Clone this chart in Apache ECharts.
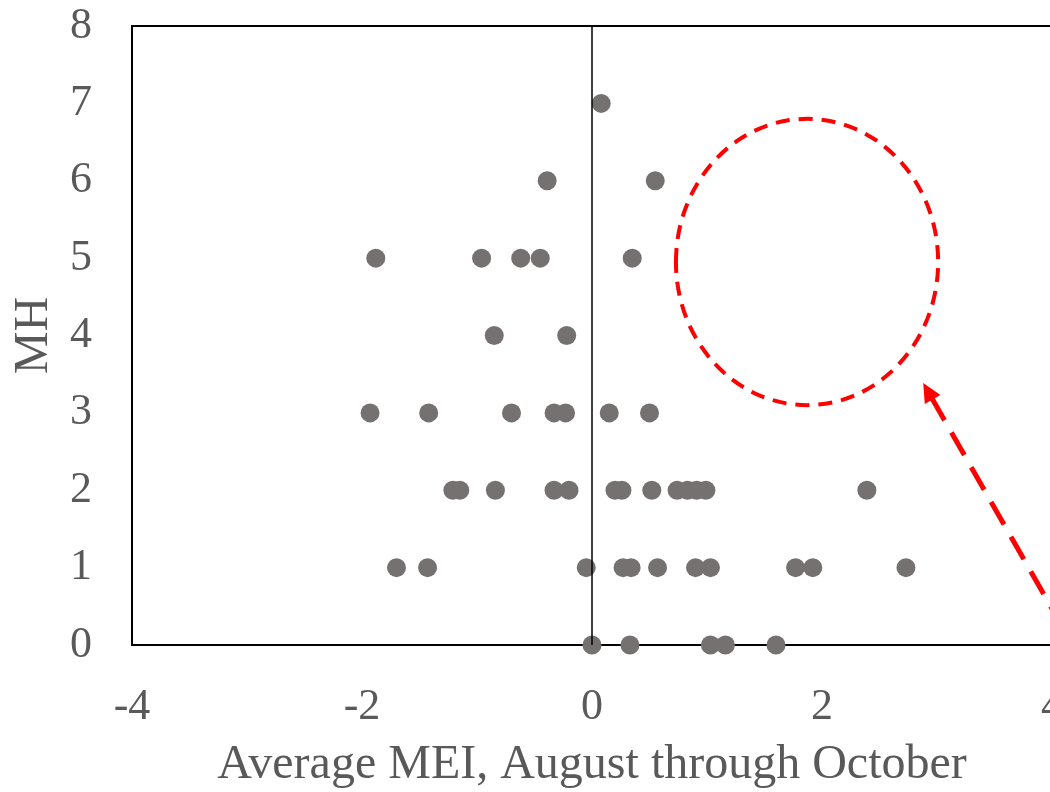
<!DOCTYPE html>
<html>
<head>
<meta charset="utf-8">
<script src="https://cdn.jsdelivr.net/npm/echarts@6/dist/echarts.min.js"></script>
<style>html,body{margin:0;padding:0;background:#fff;}#c{width:1050px;height:792px;}</style>
</head>
<body>
<div id="c"></div>
<script>
// MH value for each point
const mhValues = [
  7,
  6, 6,
  5, 5, 5, 5, 5,
  4, 4,
  3, 3, 3, 3, 3, 3, 3,
  2, 2, 2, 2, 2, 2, 2, 2, 2, 2, 2, 2, 2,
  1, 1, 1, 1, 1, 1, 1, 1, 1, 1, 1,
  0, 0, 0, 0, 0
];
// Average MEI (Aug-Oct) for each point
const meiValues = [
  0.08,
  -0.39, 0.55,
  -1.88, -0.96, -0.62, -0.45, 0.35,
  -0.85, -0.22,
  -1.93, -1.42, -0.70, -0.33, -0.23, 0.15, 0.50,
  -1.21, -1.15, -0.84, -0.33, -0.20, 0.20, 0.26, 0.52, 0.74, 0.83, 0.91, 0.99, 2.39,
  -1.70, -1.43, -0.05, 0.27, 0.34, 0.57, 0.90, 1.03, 1.77, 1.92, 2.73,
  0.00, 0.33, 1.03, 1.16, 1.60
];
const xTicks = [-4, -2, 0, 2, 4];
const yTicks = [0, 1, 2, 3, 4, 5, 6, 7, 8];
// annotation: ellipse [centerX, centerY, radiusX, radiusY] in data units
const ellipseAnno = [1.87, 4.95, 1.14, 1.85];
// annotation: arrow [fromX, fromY, toX, toY] in data units
const arrowAnno = [4.1, 0.21, 2.88, 3.385];

const points = meiValues.map((x, i) => [x, mhValues[i]]);
const font = '"Liberation Serif", "Times New Roman", serif';
const textColor = '#595959';

const chart = echarts.init(document.getElementById('c'), null, {renderer: 'canvas'});
chart.setOption({
  animation: false,
  backgroundColor: '#fff',
  grid: {left: 132, top: 26, width: 920, height: 619, show: true, borderColor: '#000', borderWidth: 2,
         backgroundColor: 'transparent', containLabel: false, outerBoundsMode: 'none'},
  xAxis: {
    type: 'value', min: xTicks[0], max: xTicks[xTicks.length - 1], interval: 2,
    name: 'Average MEI, August through October', nameLocation: 'middle', nameGap: 96,
    nameTextStyle: {fontFamily: font, fontSize: 48, color: textColor},
    axisLine: {show: true, onZero: false, lineStyle: {color: '#000', width: 2}},
    axisTick: {show: false},
    splitLine: {show: false},
    axisLabel: {fontFamily: font, fontSize: 44, color: textColor, margin: 40}
  },
  yAxis: {
    type: 'value', min: yTicks[0], max: yTicks[yTicks.length - 1], interval: 1,
    name: 'MH', nameLocation: 'middle', nameGap: 74,
    nameTextStyle: {fontFamily: font, fontSize: 48, color: textColor},
    axisLine: {show: true, onZero: false, lineStyle: {color: '#000', width: 2}},
    axisTick: {show: false},
    splitLine: {show: false},
    axisLabel: {fontFamily: font, fontSize: 44, color: textColor, margin: 40}
  },
  series: [
    {
      type: 'scatter', data: [], z: 1, silent: true,
      markLine: {
        symbol: 'none', silent: true, label: {show: false},
        lineStyle: {color: '#000', width: 1.5, type: 'solid'},
        data: [{xAxis: 0}]
      }
    },
    {
      type: 'scatter', data: points, symbol: 'circle', symbolSize: 19, z: 3,
      itemStyle: {color: '#767171', opacity: 1}
    },
    {
      type: 'custom', z: 4, silent: true, clip: false,
      data: [ellipseAnno],
      renderItem: function (params, api) {
        const c = api.coord([api.value(0), api.value(1)]);
        const sz = api.size([api.value(2), api.value(3)]);
        return {
          type: 'ellipse',
          shape: {cx: c[0], cy: c[1], rx: sz[0], ry: sz[1]},
          style: {fill: 'none', stroke: '#ff0000', lineWidth: 4, lineDash: [14, 9]}
        };
      }
    },
    {
      type: 'custom', z: 4, silent: true, clip: false,
      data: [arrowAnno],
      renderItem: function (params, api) {
        const p1 = api.coord([api.value(0), api.value(1)]);
        const p2 = api.coord([api.value(2), api.value(3)]);
        const dx = p2[0] - p1[0], dy = p2[1] - p1[1];
        const len = Math.sqrt(dx * dx + dy * dy);
        const ux = dx / len, uy = dy / len;
        const headLen = 19, headHalf = 9;
        const bx = p2[0] - ux * headLen, by = p2[1] - uy * headLen;
        return {
          type: 'group',
          children: [
            {
              type: 'line',
              shape: {x1: p1[0], y1: p1[1], x2: bx + ux * 2, y2: by + uy * 2},
              style: {stroke: '#ff0000', lineWidth: 5, lineDash: [26, 14]}
            },
            {
              type: 'polygon',
              shape: {points: [[p2[0], p2[1]], [bx - uy * headHalf, by + ux * headHalf], [bx + uy * headHalf, by - ux * headHalf]]},
              style: {fill: '#ff0000'}
            }
          ]
        };
      }
    }
  ]
});
</script>
</body>
</html>
